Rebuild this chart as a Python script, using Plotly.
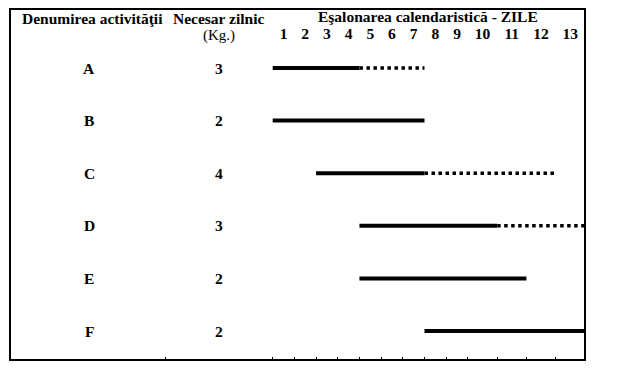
import plotly.graph_objects as go

# ---- data ----
activities = ["A", "B", "C", "D", "E", "F"]
daily_need = ["3", "2", "4", "3", "2", "2"]
start_day = [1, 1, 3, 5, 5, 8]          # first day of the solid bar
solid_end_day = [4, 7, 7, 10, 11, 13]   # last day of the solid bar
dotted_end_day = [7, None, 12, 13, None, None]  # last day of the dotted extension
day_labels = [str(d) for d in range(1, 14)]

header_activity = "Denumirea activităţii"
header_need = "Necesar zilnic"
header_unit = "(Kg.)"
header_days = "Eşalonarea calendaristică - ZILE"

# ---- layout constants (column widths of the calendar table) ----
COL_W = [1.0] * 9 + [1.35] * 4
EDGES = [0.0]
for w in COL_W:
    EDGES.append(EDGES[-1] + w)
CENTERS = [(EDGES[i] + EDGES[i + 1]) / 2 for i in range(len(COL_W))]
TABLE_DIVIDER = -4.95   # small tick on the bottom border (table column divider)

def day_start(d):
    return EDGES[d - 1]

def day_end(d):
    return EDGES[d]

FONT = "Liberation Serif, Times New Roman, serif"
PAGE_OFF = 8                    # browser default body margin
W, H = 622 - PAGE_OFF, 377 - PAGE_OFF
BOX_L, BOX_R, BOX_T, BOX_B = 10, 585, 9, 360   # box in page pixels
ML = BOX_L - PAGE_OFF
MR = W - (BOX_R - PAGE_OFF)
MT = BOX_T - PAGE_OFF
MB = H - (BOX_B - PAGE_OFF)

ROW0, ROW_STEP = 68, 52.6       # page y of first row and row spacing

def px(page_x):
    return (page_x - BOX_L) / (BOX_R - BOX_L)

def py(page_y):
    return 1 - (page_y - BOX_T) / (BOX_B - BOX_T)

fig = go.Figure()

for i, act in enumerate(activities):
    x0 = day_start(start_day[i])
    x1 = day_end(solid_end_day[i])
    fig.add_trace(go.Scatter(x=[x0, x1], y=[i, i], mode="lines",
                             line=dict(color="black", width=4),
                             showlegend=False, hoverinfo="skip"))
    if dotted_end_day[i] is not None:
        x2 = day_end(dotted_end_day[i])
        fig.add_trace(go.Scatter(x=[x1, x2], y=[i, i], mode="lines",
                                 line=dict(color="black", width=3.5, dash="dot"),
                                 showlegend=False, hoverinfo="skip"))

# invisible trace to carry the top (day label) axis
fig.add_trace(go.Scatter(x=[CENTERS[0]], y=[0], xaxis="x2", mode="markers",
                         marker=dict(opacity=0), showlegend=False, hoverinfo="skip"))

bold = dict(family=FONT, size=15.5, color="black")
annotations = []
for i, act in enumerate(activities):
    annotations.append(dict(x=px(89), xref="paper", y=i, yref="y", text=f"<b>{act}</b>",
                            xanchor="center", yanchor="middle", showarrow=False, font=bold))
    annotations.append(dict(x=px(219), xref="paper", y=i, yref="y", text=f"<b>{daily_need[i]}</b>",
                            xanchor="center", yanchor="middle", showarrow=False, font=bold))

annotations += [
    dict(x=px(92.5), y=py(18), xref="paper", yref="paper", text=f"<b>{header_activity}</b>",
         xanchor="center", yanchor="middle", showarrow=False, font=bold),
    dict(x=px(218.5), y=py(18), xref="paper", yref="paper", text=f"<b>{header_need}</b>",
         xanchor="center", yanchor="middle", showarrow=False, font=bold),
    dict(x=px(219), y=py(36), xref="paper", yref="paper", text=header_unit,
         xanchor="center", yanchor="middle", showarrow=False,
         font=dict(family=FONT, size=15, color="black")),
    dict(x=px(428), y=py(17), xref="paper", yref="paper", text=f"<b>{header_days}</b>",
         xanchor="center", yanchor="middle", showarrow=False, font=bold),
]

# x range so that day 1 starts at page pixel ~272.7 and day 13 ends at the box edge
unit_px = (BOX_R - 272.7) / EDGES[-1]
x_lo = -(272.7 - BOX_L) / unit_px
x_hi = EDGES[-1]

fig.update_layout(
    width=W, height=H,
    margin=dict(l=ML, r=MR, t=MT, b=MB, pad=0),
    paper_bgcolor="white", plot_bgcolor="white",
    xaxis=dict(range=[x_lo, x_hi], showgrid=False, zeroline=False, showline=False,
               tickvals=[TABLE_DIVIDER] + EDGES[:-1], showticklabels=False,
               ticks="inside", ticklen=3, tickwidth=1, tickcolor="black"),
    xaxis2=dict(range=[x_lo, x_hi], overlaying="x", anchor="free", position=py(42),
                side="top", showgrid=False, zeroline=False, showline=False,
                tickvals=CENTERS, ticktext=[f"<b>{t}</b>" for t in day_labels], ticks="",
                tickfont=bold),
    yaxis=dict(range=[(BOX_B - ROW0) / ROW_STEP, (BOX_T - ROW0) / ROW_STEP],
               showgrid=False, zeroline=False, showline=False, showticklabels=False, ticks=""),
    annotations=annotations,
    shapes=[dict(type="rect", xref="paper", yref="paper", x0=0, x1=1, y0=0, y1=1,
                 line=dict(color="black", width=2))],
)

fig.write_html("out.html")
